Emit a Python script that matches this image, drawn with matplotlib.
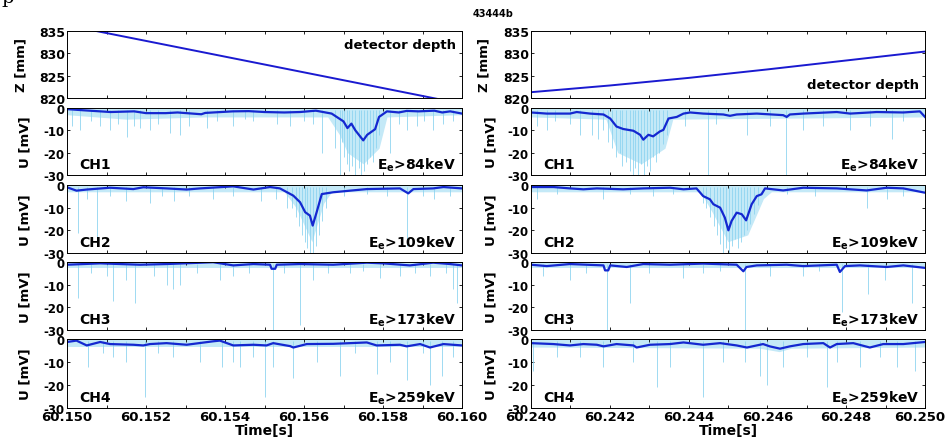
import numpy as np
import matplotlib.pyplot as plt
from matplotlib.transforms import ScaledTranslation

plt.rcParams['font.family'] = ['DejaVu Sans']
plt.rcParams['font.weight'] = 'bold'
plt.rcParams['axes.labelweight'] = 'bold'
plt.rcParams['axes.unicode_minus'] = False
plt.rcParams['mathtext.fontset'] = 'custom'
plt.rcParams['mathtext.rm'] = 'DejaVu Sans:bold'
plt.rcParams['mathtext.it'] = 'DejaVu Sans:bold'
plt.rcParams['mathtext.bf'] = 'DejaVu Sans:bold'

# start time of the two runs [s], x data below is in ms from that start
t_start = [60.150, 60.240]
time_labels = [['60.150', '60.152', '60.154', '60.156', '60.158', '60.160'],
               ['60.240', '60.242', '60.244', '60.246', '60.248', '60.250']]

channels = ['CH1', 'CH2', 'CH3', 'CH4']
energies = ['84', '109', '173', '259']

# detector depth Z [mm]
depth_left = [(0.0, 836.3), (10.0, 818.7)]
depth_right = [(0.0, 821.3), (2.0, 822.8), (4.0, 824.5), (6.0, 826.4), (8.0, 828.4), (10.0, 830.4)]

# smoothed signal (ms, mV)
smooth_left = [
    [(0, -0.5), (0.4, -1.0), (1.1, -1.8), (1.7, -1.5), (2.0, -2.3), (2.5, -2.3), (2.8, -2.0), (3.4, -2.8),
     (3.5, -2.2), (4.2, -1.5), (4.6, -1.4), (5.0, -1.8), (5.5, -2.0), (5.9, -1.8), (6.3, -1.2), (6.7, -2.5),
     (7.0, -6.0), (7.1, -9.0), (7.2, -7.0), (7.3, -10.0), (7.5, -14.5), (7.6, -12.0), (7.8, -9.5), (7.9, -4.0),
     (8.1, -1.5), (8.4, -2.0), (8.6, -1.3), (8.9, -1.5), (9.3, -1.2), (9.5, -2.0), (9.7, -1.5), (10.0, -2.5)],
    [(0, -1.0), (0.24, -2.5), (0.5, -2.0), (1.09, -1.2), (1.68, -1.8), (1.93, -1.0), (2.52, -1.5), (3.03, -2.0),
     (3.37, -1.5), (4.21, -0.6), (4.72, -2.0), (5.14, -0.9), (5.39, -1.5), (5.73, -4.7), (5.9, -7.6), (6.03, -12.0),
     (6.15, -13.5), (6.22, -17.9), (6.32, -12.0), (6.45, -4.0), (6.74, -3.2), (7.59, -1.8), (8.43, -1.5),
     (8.64, -3.7), (8.77, -1.8), (9.27, -1.5), (9.53, -0.9), (10.0, -1.5)],
    [(0, -1.2), (0.84, -0.6), (1.85, -1.2), (2.52, -0.9), (3.7, -0.1), (4.21, -1.5), (4.72, -0.9), (5.14, -1.2),
     (5.18, -3.0), (5.27, -3.0), (5.31, -1.2), (5.9, -0.9), (6.74, -1.2), (7.59, -0.3), (8.01, -0.6),
     (8.68, -1.5), (9.27, -0.3), (9.7, -0.9), (10.0, -1.5)],
    [(0, -1.3), (0.24, -0.7), (0.5, -2.8), (0.84, -1.3), (1.09, -2.2), (1.68, -2.5), (1.93, -2.8), (2.1, -2.2),
     (2.52, -1.8), (3.03, -2.5), (3.7, -1.0), (3.87, -0.7), (4.21, -2.8), (4.72, -2.5), (5.05, -2.8),
     (5.22, -1.8), (5.65, -3.1), (5.73, -3.7), (6.07, -2.2), (6.74, -2.1), (7.59, -1.5), (7.84, -2.8),
     (8.43, -2.5), (8.6, -3.2), (8.94, -2.2), (9.19, -3.7), (9.53, -2.2), (10.0, -2.8)],
]
smooth_right = [
    [(0, -2.0), (0.4, -2.5), (0.99, -2.5), (1.16, -1.8), (1.5, -2.5), (1.84, -2.9), (2.01, -4.7), (2.17, -8.3),
     (2.34, -9.4), (2.6, -10.2), (2.77, -12.0), (2.85, -14.2), (2.98, -12.0), (3.1, -12.7), (3.27, -10.5),
     (3.36, -9.8), (3.49, -4.7), (3.7, -4.0), (3.87, -2.5), (4.04, -2.0), (4.37, -2.5), (4.88, -2.9),
     (5.05, -3.5), (5.22, -2.9), (5.73, -2.5), (6.4, -3.2), (6.49, -4.0), (6.57, -2.9), (6.91, -2.5),
     (7.76, -1.8), (8.1, -2.5), (8.6, -2.0), (8.77, -1.8), (9.45, -2.0), (9.87, -1.5), (10.0, -4.0)],
    [(0, -0.9), (0.57, -0.9), (0.99, -1.5), (1.33, -1.9), (1.67, -1.5), (2.34, -1.9), (2.85, -1.5), (3.53, -1.2),
     (3.87, -1.9), (4.2, -1.5), (4.37, -4.9), (4.54, -6.3), (4.63, -8.5), (4.8, -10.0), (4.92, -14.4),
     (5.01, -20.0), (5.09, -15.9), (5.22, -12.2), (5.35, -12.9), (5.46, -15.6), (5.6, -8.5), (5.73, -4.9),
     (5.85, -4.1), (5.94, -1.5), (6.4, -2.4), (6.91, -1.2), (7.76, -1.5), (8.52, -2.4), (9.03, -1.2),
     (9.45, -1.5), (10.0, -3.4)],
    [(0, -1.2), (0.4, -1.8), (0.99, -0.9), (1.84, -1.5), (1.88, -3.7), (1.96, -3.7), (2.01, -1.5), (2.43, -2.2),
     (2.85, -0.9), (3.53, -1.2), (4.37, -0.7), (5.22, -1.2), (5.39, -4.1), (5.47, -2.2), (5.73, -1.5),
     (6.49, -1.2), (6.91, -1.8), (7.76, -1.2), (7.84, -4.4), (7.97, -1.8), (8.35, -1.5), (9.03, -2.2),
     (9.45, -1.5), (10.0, -2.6)],
    [(0, -1.8), (0.57, -2.2), (0.99, -2.8), (1.33, -2.2), (1.67, -2.5), (1.84, -3.2), (2.17, -2.2), (2.6, -2.8),
     (2.68, -3.7), (3.02, -2.5), (3.53, -2.2), (3.87, -1.5), (4.37, -2.5), (4.8, -1.8), (5.22, -2.8),
     (5.48, -3.7), (5.89, -2.2), (6.06, -3.2), (6.32, -4.2), (6.57, -3.2), (6.91, -2.2), (7.42, -1.8),
     (7.59, -3.7), (7.76, -2.2), (8.18, -1.8), (8.6, -3.7), (8.94, -2.2), (9.45, -2.2), (10.0, -1.3)],
]

# lower edge of the dense raw-signal band (ms, mV)
band_left = [
    [(0, -3), (1.5, -5), (3.5, -4), (6.6, -4), (6.9, -12), (7.1, -20), (7.5, -25), (7.9, -18), (8.1, -4), (10, -3)],
    [(0, -3), (5.5, -3), (5.8, -10), (6.2, -25), (6.5, -8), (6.7, -3), (10, -3)],
    [(0, -2.5), (10, -2.5)],
    [(0, -3.5), (10, -3.5)],
]
band_right = [
    [(0, -4), (1.9, -5), (2.2, -20), (2.8, -25), (3.4, -18), (3.6, -5), (10, -4)],
    [(0, -3), (4.3, -3), (4.6, -12), (5.0, -25), (5.5, -22), (5.9, -6), (6.1, -3), (10, -3)],
    [(0, -2.5), (10, -2.5)],
    [(0, -3.5), (5.8, -4), (6.3, -5.5), (6.6, -4), (10, -3.5)],
]

# single raw-signal spikes (ms, depth in mV)
spikes_left = [
    [(0.12, -8), (0.33, -10), (0.6, -6), (0.84, -8), (1.09, -10), (1.3, -7), (1.51, -13), (1.7, -8), (1.85, -9),
     (2.1, -10), (2.3, -7), (2.61, -11), (2.86, -12), (3.1, -8), (3.54, -9), (3.8, -6), (4.21, -8), (4.5, -5),
     (4.72, -6), (5.31, -7), (5.65, -8), (6.0, -6), (6.24, -7), (6.45, -20), (6.78, -18), (6.91, -30),
     (6.95, -15), (7.02, -22), (7.08, -25), (7.15, -28), (7.22, -26), (7.3, -30), (7.38, -27), (7.45, -30),
     (7.52, -28), (7.6, -25), (7.68, -22), (7.75, -24), (7.82, -18), (7.9, -12), (8.18, -20), (8.4, -7),
     (8.6, -10), (8.85, -8), (9.05, -6), (9.27, -10), (9.53, -7), (9.78, -6)],
    [(0.29, -21), (0.5, -6), (0.75, -24), (1.1, -5), (1.5, -7), (2.1, -8), (2.4, -5), (2.7, -7), (3.1, -5),
     (3.7, -6), (4.2, -5), (4.9, -7), (5.3, -6), (5.56, -10), (5.7, -10), (5.8, -14), (5.88, -18), (5.95, -22),
     (6.02, -25), (6.08, -28), (6.15, -30), (6.22, -30), (6.3, -27), (6.38, -22), (6.45, -16), (6.55, -10),
     (7.0, -5), (7.6, -4), (8.1, -5), (8.6, -27), (9.0, -5), (9.3, -6), (9.7, -5)],
    [(0.29, -16), (0.6, -5), (1.0, -6), (1.17, -17), (1.5, -8), (1.72, -18), (2.2, -6), (2.52, -10),
     (2.69, -12), (2.86, -10), (3.3, -5), (3.87, -8), (4.21, -6), (4.6, -5), (5.21, -30), (5.5, -5),
     (5.9, -28), (6.24, -8), (6.6, -5), (7.16, -5), (7.5, -4), (7.92, -7), (8.43, -6), (8.8, -5), (9.19, -6),
     (9.6, -5), (9.78, -12), (9.88, -18)],
    [(0.54, -12), (0.9, -6), (1.17, -8), (1.5, -10), (1.97, -25), (2.3, -6), (2.69, -8), (3.37, -10),
     (3.92, -12), (4.21, -10), (4.38, -12), (4.72, -8), (5.01, -25), (5.22, -12), (5.73, -17), (6.32, -10),
     (6.91, -16), (7.3, -6), (7.84, -15), (8.18, -10), (8.6, -18), (9.0, -6), (9.19, -20), (9.49, -16),
     (9.78, -8)],
]
spikes_right = [
    [(0.14, -8), (0.4, -10), (0.6, -6), (0.99, -7), (1.24, -12), (1.55, -12), (1.7, -14), (1.82, -10),
     (1.95, -15), (2.05, -18), (2.15, -22), (2.25, -20), (2.32, -26), (2.4, -24), (2.5, -28), (2.58, -30),
     (2.65, -27), (2.72, -30), (2.8, -25), (2.88, -30), (2.95, -26), (3.02, -28), (3.1, -22), (3.18, -24),
     (3.25, -20), (3.35, -16), (3.45, -12), (3.9, -8), (4.5, -30), (4.7, -7), (5.47, -12), (6.07, -8),
     (6.47, -30), (6.9, -10), (7.42, -8), (8.1, -10), (8.6, -8), (9.15, -14), (9.45, -6)],
    [(0.14, -6), (0.65, -4), (1.83, -6), (2.5, -4), (3.1, -5), (3.6, -4), (4.37, -8), (4.45, -10), (4.55, -14),
     (4.65, -18), (4.72, -22), (4.8, -26), (4.88, -30), (4.95, -28), (5.02, -30), (5.1, -27), (5.18, -24),
     (5.25, -28), (5.32, -25), (5.4, -22), (5.48, -20), (5.55, -17), (5.65, -13), (5.75, -9), (6.5, -4),
     (7.2, -5), (8.52, -10), (9.03, -6), (9.45, -5)],
    [(0.3, -6), (0.99, -8), (1.4, -5), (1.92, -30), (2.51, -18), (3.0, -5), (3.87, -7), (4.37, -5), (4.8, -4),
     (5.43, -30), (6.07, -6), (6.91, -6), (7.3, -4), (7.89, -22), (8.56, -14), (8.98, -8), (9.66, -18)],
    [(0.06, -14), (0.65, -8), (1.24, -8), (1.84, -12), (2.6, -10), (3.19, -21), (3.53, -12), (4.37, -25),
     (4.88, -10), (5.43, -10), (5.81, -16), (5.98, -20), (6.4, -12), (7.0, -8), (7.51, -21), (7.76, -10),
     (8.35, -12), (8.86, -8), (9.28, -12), (9.75, -14)],
]

W, H = 947, 439
col_x = [(67, 462), (531, 925)]
row_y = [(32, 99), (109, 176), (186, 254), (263, 331), (340, 409)]

dark = '#1428d0'
light = '#8fd4f0'
band_col = '#c4e9f7'

fig = plt.figure(figsize=(W / 100, H / 100), dpi=100)


def make_ax(col, row):
    x0, x1 = col_x[col]
    y0, y1 = row_y[row]
    ax = fig.add_axes([x0 / W, 1 - y1 / H, (x1 - x0) / W, (y1 - y0) / H])
    t0 = t_start[col]
    ax.set_xlim(t0, t0 + 0.010)
    ax.set_xticks(t0 + np.arange(11) * 0.001)
    ax.tick_params(direction='in', length=2.5, width=0.6, top=True, right=True,
                   labelsize=8.5, pad=1.5)
    ax.set_xticklabels([])
    for s in ax.spines.values():
        s.set_linewidth(0.7)
    return ax


def to_t(col, pts):
    a = np.array(pts, dtype=float)
    return t_start[col] + a[:, 0] / 1000, a[:, 1]


for col, (depth, smooth, band, spikes) in enumerate([
        (depth_left, smooth_left, band_left, spikes_left),
        (depth_right, smooth_right, band_right, spikes_right)]):
    z_x = -0.099 if col == 0 else -0.104
    u_x = -0.089 if col == 0 else -0.086

    ax = make_ax(col, 0)
    t, z = to_t(col, depth)
    ax.plot(t, z, color='#1a1ad0', lw=1.4)
    ax.set_ylim(820, 835)
    ax.set_yticks([820, 825, 830, 835])
    ax.tick_params(axis='y', labelsize=9)
    ax.set_ylabel('Z [mm]', fontsize=9.5)
    ax.yaxis.set_label_coords(z_x, 0.5)
    ty = 0.8 if col == 0 else 0.2
    ax.text(0.985, ty, 'detector depth', transform=ax.transAxes, ha='right', va='center', fontsize=9.5)

    for i in range(4):
        ax = make_ax(col, i + 1)
        bt, bu = to_t(col, band[i])
        ax.fill_between(bt, 0, bu, color=band_col, lw=0)
        st, su = to_t(col, spikes[i])
        ax.vlines(st, -1.0, su, color=light, lw=0.6)
        mt, mu = to_t(col, smooth[i])
        ax.plot(mt, mu, color=dark, lw=1.6)
        ax.set_ylim(-30, 0)
        ax.set_yticks([-30, -20, -10, 0])
        ax.set_ylabel('U [mV]', fontsize=9.5)
        ax.yaxis.set_label_coords(u_x, 0.5)
        ax.text(0.03, 0.16, channels[i], transform=ax.transAxes, ha='left', va='center', fontsize=10)
        ax.text(0.985, 0.16, 'E$_{\\rm e}$>' + energies[i] + 'keV', transform=ax.transAxes,
                ha='right', va='center', fontsize=10)
        if i == 3:
            ax.set_xticks(t_start[col] + np.arange(0, 11, 2) * 0.001)
            ax.set_xticks(t_start[col] + np.arange(11) * 0.001, minor=True)
            ax.tick_params(which='minor', direction='in', length=2.5, width=0.6, top=True)
            ax.set_xticklabels(time_labels[col], fontsize=9.5)
            ax.set_xlabel('Time[s]', fontsize=10, labelpad=0)
            if col == 1:
                last = ax.get_xticklabels()[-1]
                last.set_transform(last.get_transform() + ScaledTranslation(-0.05, 0, fig.dpi_scale_trans))

fig.text(493 / W, 1 - 14 / H, '43444b', ha='center', va='center', fontsize=7)
fig.text(0.001, 1 - 3 / H, 'p', ha='left', va='baseline', fontsize=14, family='DejaVu Serif',
         fontweight='normal')

fig.savefig('out.png', dpi=100)
